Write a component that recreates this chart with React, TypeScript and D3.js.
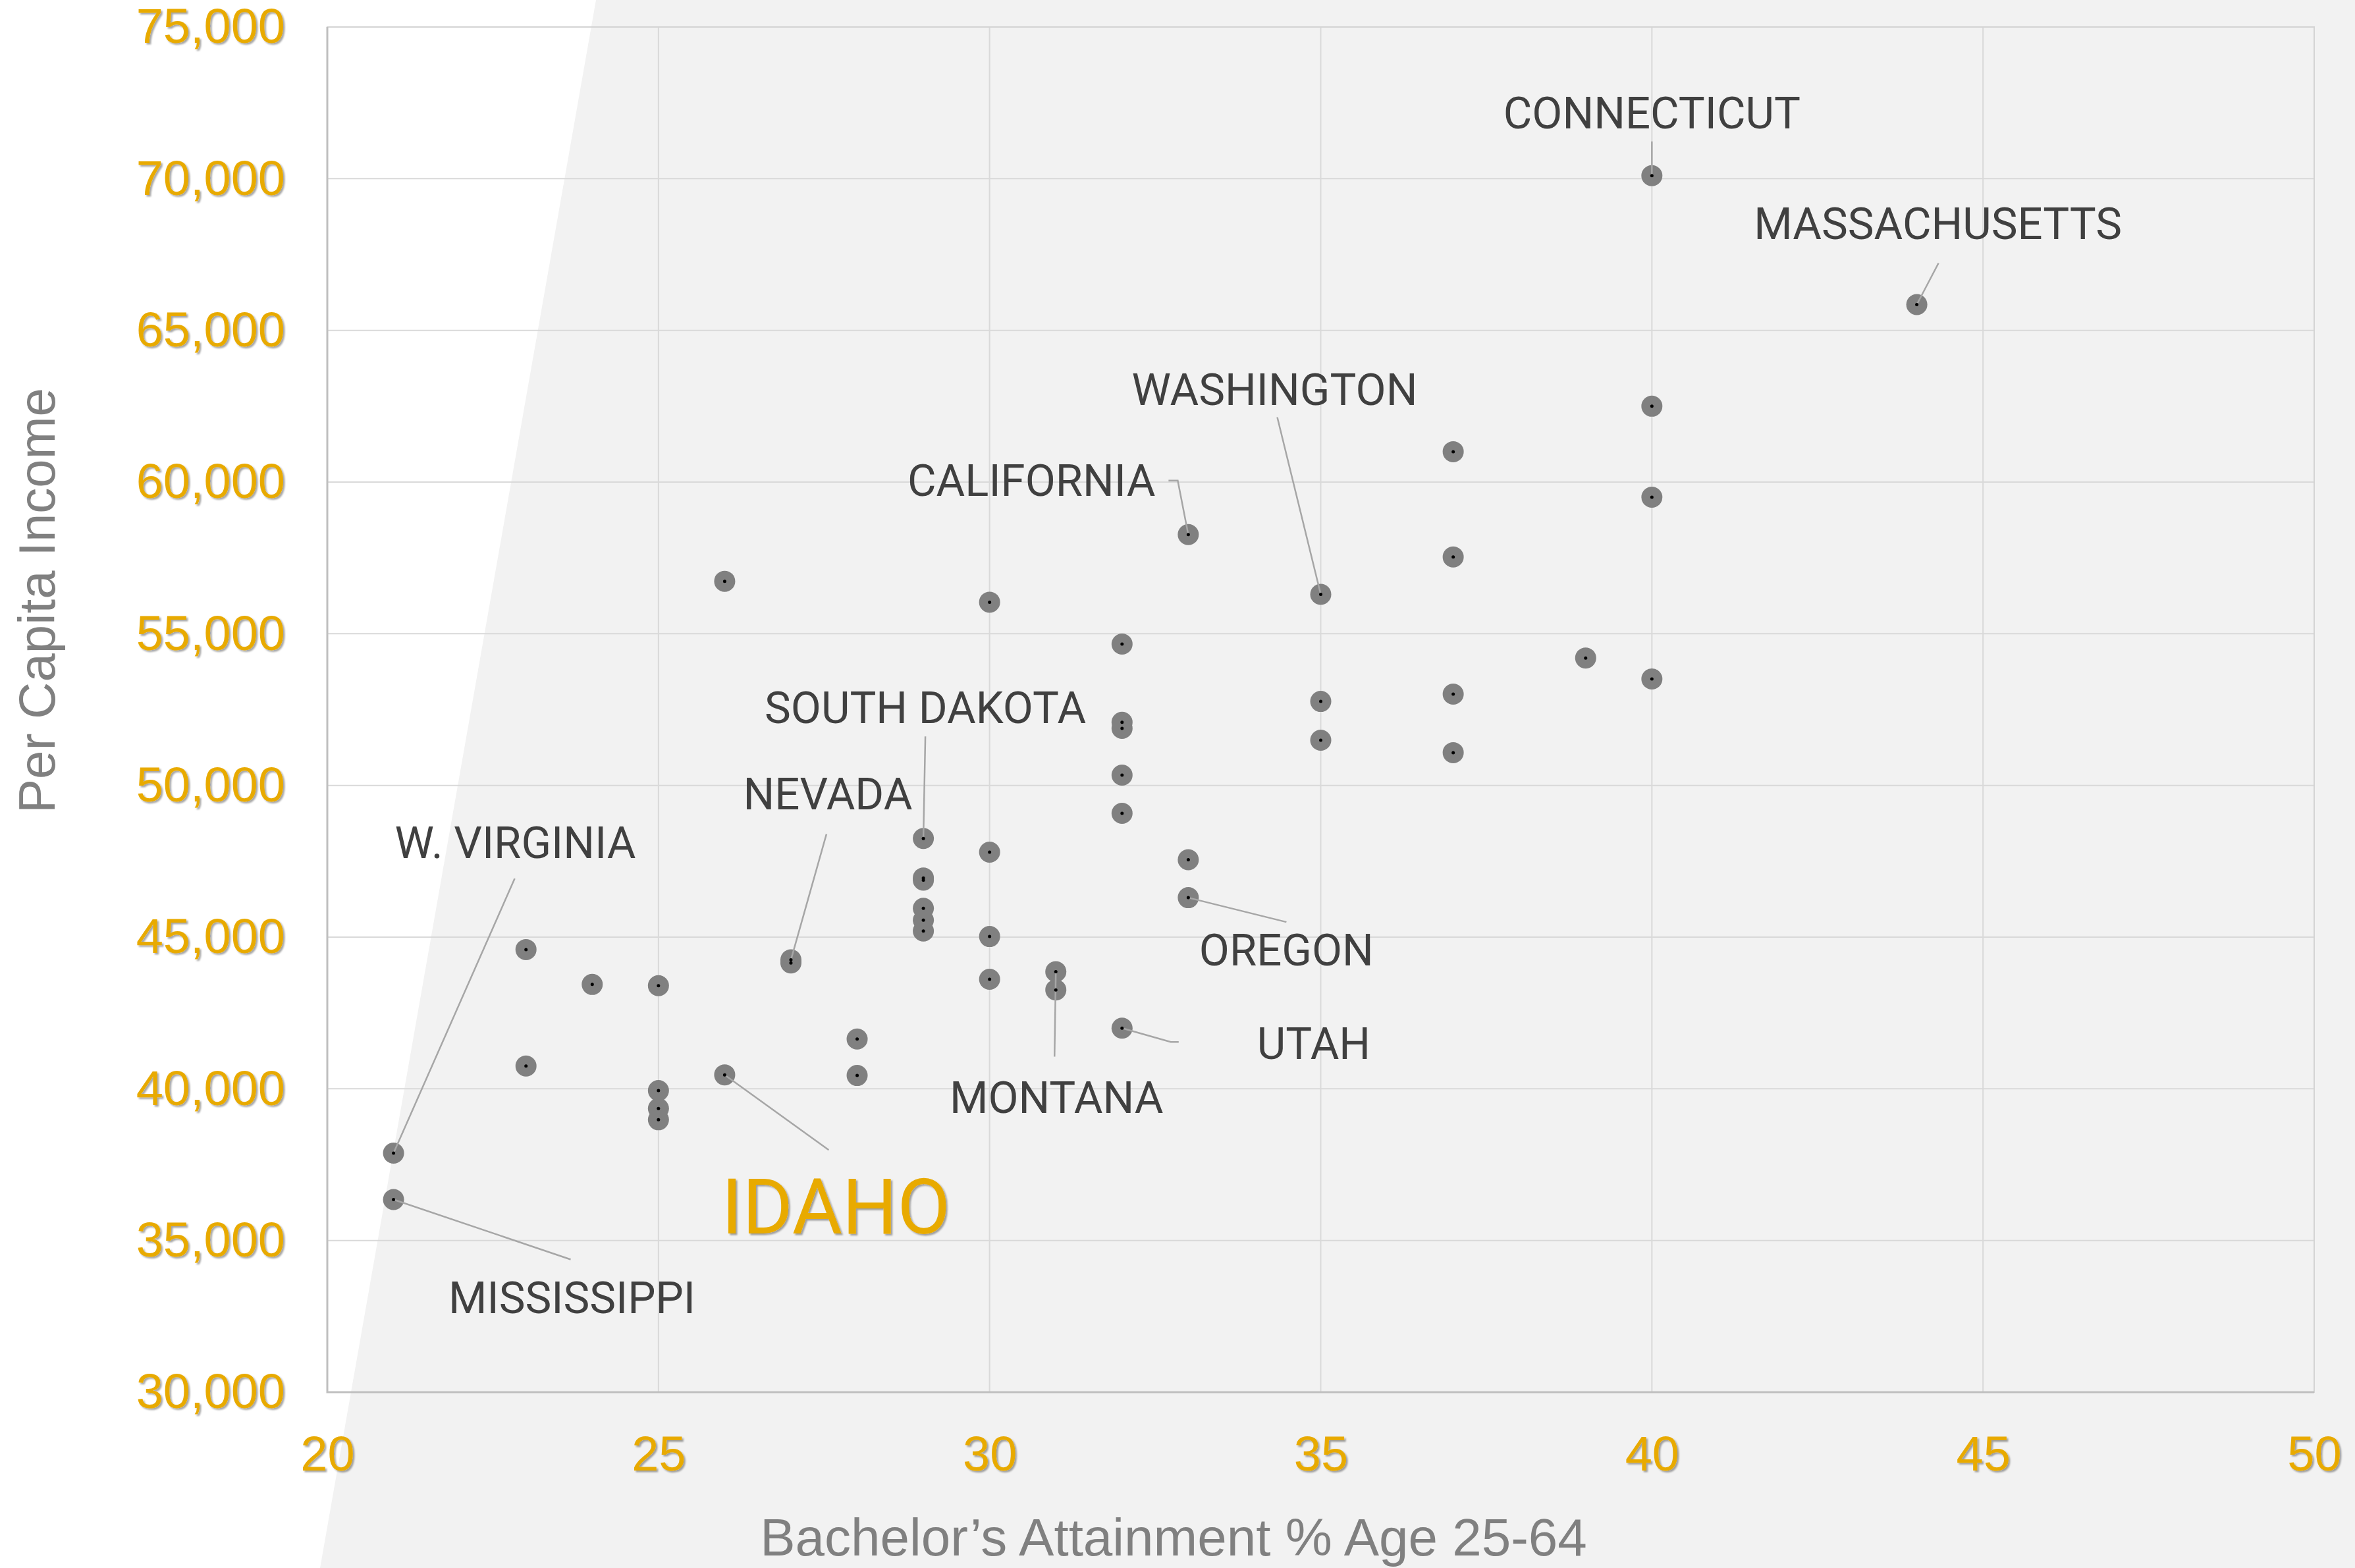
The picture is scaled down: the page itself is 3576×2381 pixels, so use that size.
import * as d3 from 'd3';
import { useEffect, useRef } from 'react';

// bachelor's attainment % (age 25-64) per state
const bachelorsPct = [40, 44, 40, 37, 40, 33, 37, 35, 26, 30, 32, 39, 40, 37, 35, 32, 32, 35, 37, 32, 32, 29, 30, 33, 29, 29, 33, 29, 29, 29, 30, 27, 27, 23, 24, 25, 30, 31, 31, 32, 28, 28, 23, 26, 25, 25, 25, 21, 21];
// per capita income per state
const perCapitaIncome = [70100, 65850, 62500, 61000, 59500, 58270, 57530, 56300, 56730, 56040, 54660, 54200, 53510, 53010, 52770, 52080, 51880, 51490, 51080, 50340, 49080, 48250, 47800, 47550, 46950, 46880, 46300, 45950, 45560, 45200, 45020, 44250, 44150, 44590, 43440, 43400, 43610, 43860, 43260, 42000, 41640, 40440, 40750, 40460, 39940, 39350, 38980, 37880, 36350];
const stateLabels = ['CONNECTICUT', 'MASSACHUSETTS', '', '', '', 'CALIFORNIA', '', 'WASHINGTON', '', '', '', '', '', '', '', '', '', '', '', '', '', 'SOUTH DAKOTA', '', '', '', '', 'OREGON', '', '', '', '', 'NEVADA', '', '', '', '', '', 'MONTANA', '', 'UTAH', '', '', '', 'IDAHO', '', '', '', 'W. VIRGINIA', 'MISSISSIPPI'];

const xTicks = [20, 25, 30, 35, 40, 45, 50];
const yTicks = [30000, 35000, 40000, 45000, 50000, 55000, 60000, 65000, 70000, 75000];

// label placement, pixels relative to the point
const callouts = {
    'CONNECTICUT': { dx: 0, dy: -72, anchor: 'middle', leader: [[0, -52]] },
    'MASSACHUSETTS': { dx: 32, dy: -100, anchor: 'middle', leader: [[33, -63]] },
    'WASHINGTON': { dx: -70, dy: -287, anchor: 'middle', leader: [[-66, -269]] },
    'CALIFORNIA': { dx: -50, dy: -59, anchor: 'end', leader: [[-16, -82], [-30, -82]] },
    'SOUTH DAKOTA': { dx: 3, dy: -175, anchor: 'middle', leader: [[3, -155]] },
    'NEVADA': { dx: 56, dy: -229, anchor: 'middle', leader: [[54, -191]] },
    'W. VIRGINIA': { dx: 185, dy: -448, anchor: 'middle', leader: [[184, -417]] },
    'OREGON': { dx: 149, dy: 103, anchor: 'middle', leader: [[149, 37]] },
    'UTAH': { dx: 205, dy: 47, anchor: 'start', leader: [[74, 21], [86, 21]] },
    'MONTANA': { dx: 1, dy: 214, anchor: 'middle', leader: [[-2, 129]] },
    'IDAHO': { dx: -5, dy: 241, anchor: 'start', leader: [[158, 114]] },
    'MISSISSIPPI': { dx: 271, dy: 173, anchor: 'middle', leader: [[269, 91]] },
};

const W = 3576;
const H = 2381;
const GOLD = '#e8aa00';
const tickFont = '"Liberation Sans", Arial, sans-serif';
const labelFont = 'Roboto, "Liberation Sans", sans-serif';

function App() {
    const svgRef = useRef(null);

    useEffect(() => {
        const svg = d3.select(svgRef.current);
        svg.selectAll('*').remove();

        const margin = { top: 41, right: 62, bottom: 267, left: 497 };
        const width = W - margin.left - margin.right;
        const height = H - margin.top - margin.bottom;

        const defs = svg.append('defs');
        const shadow = defs.append('filter').attr('id', 'goldShadow')
            .attr('x', '-10%').attr('y', '-10%').attr('width', '130%').attr('height', '140%');
        shadow.append('feDropShadow')
            .attr('dx', 2.5).attr('dy', 2.5).attr('stdDeviation', 1.3)
            .attr('flood-color', '#000').attr('flood-opacity', 0.35);

        svg.append('rect').attr('width', W).attr('height', H).attr('fill', '#ffffff');
        // slanted grey backdrop
        svg.append('polygon')
            .attr('points', `905,0 ${W},0 ${W},${H} 486,${H}`)
            .attr('fill', '#f2f2f2');

        const g = svg.append('g').attr('transform', `translate(${margin.left}, ${margin.top})`);

        const x = d3.scaleLinear().domain([20, 50]).range([0, width]);
        const y = d3.scaleLinear().domain([30000, 75000]).range([height, 0]);

        g.append('g').selectAll('line').data(xTicks).enter().append('line')
            .attr('x1', d => x(d)).attr('x2', d => x(d))
            .attr('y1', 0).attr('y2', height)
            .attr('stroke', '#d9d9d9').attr('stroke-width', 2);
        g.append('g').selectAll('line').data(yTicks).enter().append('line')
            .attr('x1', 0).attr('x2', width)
            .attr('y1', d => y(d)).attr('y2', d => y(d))
            .attr('stroke', '#d9d9d9').attr('stroke-width', 2);

        g.append('rect')
            .attr('width', width).attr('height', height)
            .attr('fill', 'none').attr('stroke', '#d4d4d4').attr('stroke-width', 2);
        g.append('path')
            .attr('d', `M0,0V${height}H${width}`)
            .attr('fill', 'none').attr('stroke', '#bfbfbf').attr('stroke-width', 3);

        const yAxis = g.append('g')
            .call(d3.axisLeft(y).tickValues(yTicks).tickFormat(d3.format(',')).tickSize(0).tickPadding(64));
        yAxis.select('.domain').remove();
        yAxis.selectAll('.tick text')
            .attr('fill', GOLD).attr('font-size', 74).attr('font-family', tickFont)
            .attr('filter', 'url(#goldShadow)');

        const xAxis = g.append('g')
            .attr('transform', `translate(0, ${height})`)
            .call(d3.axisBottom(x).tickValues(xTicks).tickSize(0).tickPadding(66));
        xAxis.select('.domain').remove();
        xAxis.selectAll('.tick text')
            .attr('fill', GOLD).attr('font-size', 74).attr('font-family', tickFont)
            .attr('filter', 'url(#goldShadow)');

        svg.append('text')
            .attr('transform', `translate(83, 912) rotate(-90)`)
            .attr('text-anchor', 'middle')
            .attr('fill', '#808080').attr('font-size', 78).attr('font-family', tickFont)
            .text('Per Capita Income');

        svg.append('text')
            .attr('x', 1782).attr('y', 2362)
            .attr('text-anchor', 'middle')
            .attr('fill', '#808080').attr('font-size', 80).attr('font-family', tickFont)
            .text('Bachelor\u2019s Attainment % Age 25-64');

        const points = bachelorsPct.map((b, i) => ({ b, inc: perCapitaIncome[i], name: stateLabels[i] }));

        g.append('g').selectAll('circle').data(points).enter().append('circle')
            .attr('cx', d => x(d.b)).attr('cy', d => y(d.inc))
            .attr('r', 16).attr('fill', '#808080');

        const labeled = points.filter(d => d.name && callouts[d.name]);

        g.append('g').selectAll('path').data(labeled).enter().append('path')
            .attr('d', d => {
                const px = x(d.b), py = y(d.inc);
                const pts = [[px, py], ...callouts[d.name].leader.map(([lx, ly]) => [px + lx, py + ly])];
                return d3.line()(pts);
            })
            .attr('fill', 'none').attr('stroke', '#a6a6a6').attr('stroke-width', 2.5);

        g.append('g').selectAll('circle').data(points).enter().append('circle')
            .attr('cx', d => x(d.b)).attr('cy', d => y(d.inc))
            .attr('r', 2.5).attr('fill', '#000');

        g.append('g').selectAll('text').data(labeled).enter().append('text')
            .attr('x', d => x(d.b) + callouts[d.name].dx)
            .attr('y', d => y(d.inc) + callouts[d.name].dy)
            .attr('text-anchor', d => callouts[d.name].anchor)
            .attr('font-family', labelFont)
            .attr('font-size', d => d.name === 'IDAHO' ? 117 : 67)
            .attr('fill', d => d.name === 'IDAHO' ? GOLD : '#404040')
            .attr('filter', d => d.name === 'IDAHO' ? 'url(#goldShadow)' : null)
            .text(d => d.name);

        return () => {
            d3.select(svgRef.current).selectAll('*').remove();
        };
    }, []);

    return (
        <svg ref={svgRef} width={W} height={H}
            style={{ position: 'absolute', left: 0, top: 0, display: 'block' }} />
    );
}

export default App;
